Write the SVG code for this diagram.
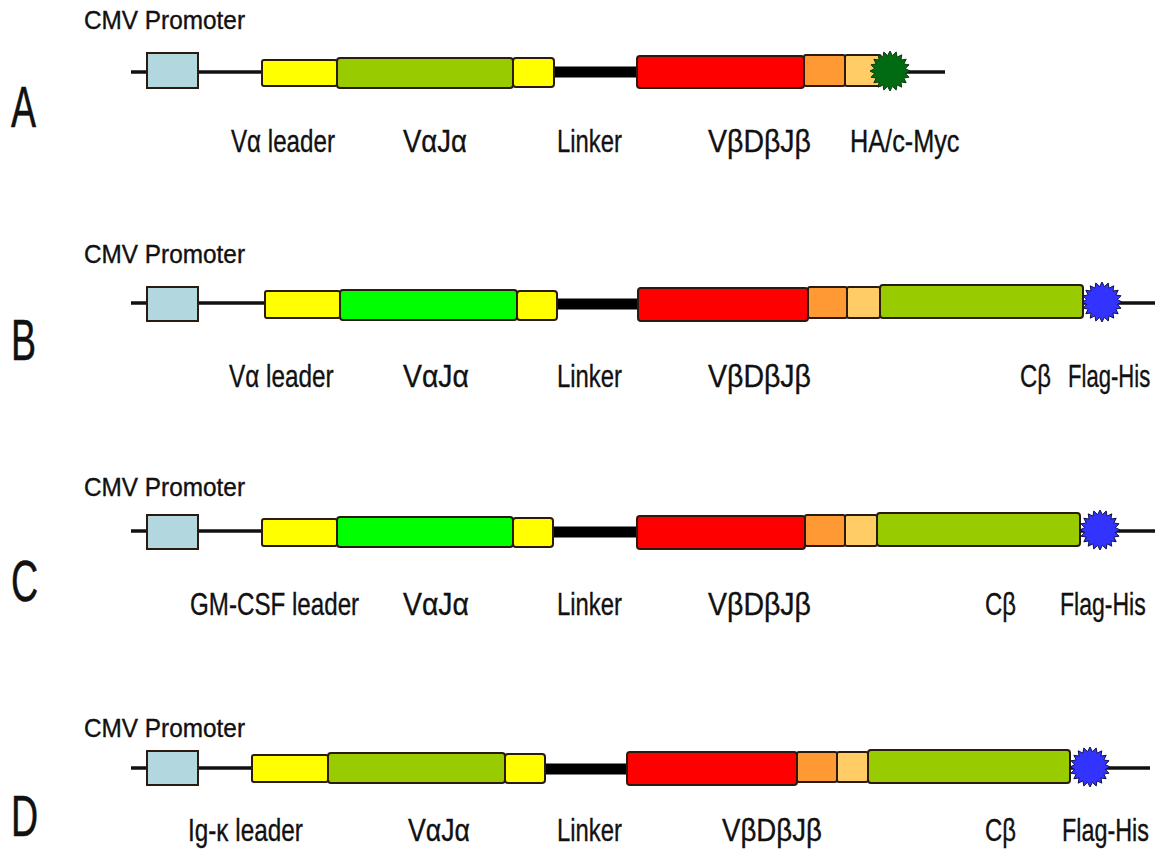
<svg xmlns="http://www.w3.org/2000/svg" width="1159" height="849" viewBox="0 0 1159 849">
  <style>
    text { font-family: "Liberation Sans", Arial, sans-serif; fill: #111; stroke: #111; stroke-width: 0.35; }
    .prom-lbl { font-size: 25px; }
    .lbl { font-size: 32px; }
    .row-id { font-size: 57px; stroke-width: 0.5; }
    .thin { stroke: #111; stroke-width: 3.5; fill: none; }
    .thick { stroke: #000; stroke-width: 11; fill: none; }
    .seg { stroke: #2a1a10; stroke-width: 2; }
    .prom { fill: #b3d7de; }
    .yel { fill: #ffff00; }
    .olive { fill: #99cc00; }
    .lime { fill: #00ff00; }
    .red { fill: #ff0000; }
    .org { fill: #ff9933; }
    .lorg { fill: #ffcc66; }
    .tag-myc { fill: #006b12; stroke: #0a3a0a; stroke-width: 1; }
    .tag-his { fill: #3333ff; stroke: #10104a; stroke-width: 1; }
  </style>
  <defs>
    <!-- 20-point burst used for the C-terminal epitope tags -->
    <polygon id="star" points="20,0 15.31,2.42 19.02,6.18 13.81,7.04 16.18,11.76 10.96,10.96 11.76,16.18 7.04,13.81 6.18,19.02 2.42,15.31 0,20 -2.42,15.31 -6.18,19.02 -7.04,13.81 -11.76,16.18 -10.96,10.96 -16.18,11.76 -13.81,7.04 -19.02,6.18 -15.31,2.42 -20,0 -15.31,-2.42 -19.02,-6.18 -13.81,-7.04 -16.18,-11.76 -10.96,-10.96 -11.76,-16.18 -7.04,-13.81 -6.18,-19.02 -2.42,-15.31 0,-20 2.42,-15.31 6.18,-19.02 7.04,-13.81 11.76,-16.18 10.96,-10.96 16.18,-11.76 13.81,-7.04 19.02,-6.18 15.31,-2.42"/>
  </defs>

  <!-- backbone lines of each construct -->
  <g id="connectors">
    <line class="thin" x1="131" y1="72" x2="262" y2="72"/>
    <line class="thick" x1="552" y1="72" x2="639" y2="72"/>
    <line class="thin" x1="878" y1="72" x2="945" y2="72"/>

    <line class="thin" x1="131" y1="303" x2="265" y2="303"/>
    <line class="thick" x1="555" y1="304" x2="640" y2="304"/>
    <line class="thin" x1="1080" y1="303" x2="1155" y2="303"/>

    <line class="thin" x1="131" y1="531" x2="262" y2="531"/>
    <line class="thick" x1="551" y1="532" x2="639" y2="532"/>
    <line class="thin" x1="1078" y1="531" x2="1155" y2="531"/>

    <line class="thin" x1="131" y1="768" x2="252" y2="768"/>
    <line class="thick" x1="543" y1="769" x2="629" y2="769"/>
    <line class="thin" x1="1068" y1="768" x2="1150" y2="768"/>
  </g>

  <!-- construct A -->
  <g id="rowA">
    <text id="A-id" class="row-id" transform="translate(11,127) scale(0.66,1)">A</text>
    <text id="A-prom-lbl" class="prom-lbl" x="84" y="29" textLength="161" lengthAdjust="spacingAndGlyphs">CMV Promoter</text>
    <g id="A-promoter"><rect class="seg prom" x="147" y="53" width="51" height="35"/></g>
    <g id="A-leader"><rect class="seg yel" x="262" y="60" width="75" height="26" rx="2"/></g>
    <g id="A-vaja"><rect class="seg olive" x="337" y="58" width="176" height="30" rx="3"/></g>
    <g id="A-linker-start"><rect class="seg yel" x="513" y="58" width="41" height="29" rx="3"/></g>
    <g id="A-vbdbjb"><rect class="seg red" x="637" y="56" width="167" height="32" rx="3"/></g>
    <g id="A-cb1"><rect class="seg org" x="804" y="55" width="41" height="31" rx="2"/></g>
    <g id="A-cb2"><rect class="seg lorg" x="845" y="55" width="36" height="31" rx="2"/></g>
    <g id="A-tag"><use href="#star" class="tag-myc" transform="translate(890,71)"/></g>
    <text class="lbl" transform="translate(231,152) scale(0.755,1)">Vα leader</text>
    <text class="lbl" x="403" y="152" textLength="64" lengthAdjust="spacingAndGlyphs">VαJα</text>
    <text class="lbl" x="557" y="152" textLength="65" lengthAdjust="spacingAndGlyphs">Linker</text>
    <text class="lbl" x="708" y="152" textLength="103" lengthAdjust="spacingAndGlyphs">VβDβJβ</text>
    <text class="lbl" transform="translate(850,152) scale(0.79,1)">HA/c-Myc</text>
  </g>

  <!-- construct B -->
  <g id="rowB">
    <text id="B-id" class="row-id" transform="translate(11,360) scale(0.66,1)">B</text>
    <text id="B-prom-lbl" class="prom-lbl" x="84" y="263" textLength="161" lengthAdjust="spacingAndGlyphs">CMV Promoter</text>
    <g id="B-promoter"><rect class="seg prom" x="147" y="287" width="51" height="34"/></g>
    <g id="B-leader"><rect class="seg yel" x="265" y="291" width="75" height="27" rx="2"/></g>
    <g id="B-vaja"><rect class="seg lime" x="340" y="290" width="177" height="30" rx="3"/></g>
    <g id="B-linker-start"><rect class="seg yel" x="517" y="291" width="40" height="29" rx="3"/></g>
    <g id="B-vbdbjb"><rect class="seg red" x="638" y="288" width="170" height="33" rx="3"/></g>
    <g id="B-cb1"><rect class="seg org" x="808" y="287" width="39" height="31" rx="2"/></g>
    <g id="B-cb2"><rect class="seg lorg" x="847" y="287" width="33" height="31" rx="2"/></g>
    <g id="B-cb"><rect class="seg olive" x="880" y="285" width="203" height="33" rx="3"/></g>
    <g id="B-tag"><use href="#star" class="tag-his" transform="translate(1102,302)"/></g>
    <text class="lbl" transform="translate(229,387) scale(0.76,1)">Vα leader</text>
    <text class="lbl" x="403" y="387" textLength="66" lengthAdjust="spacingAndGlyphs">VαJα</text>
    <text class="lbl" x="557" y="387" textLength="65" lengthAdjust="spacingAndGlyphs">Linker</text>
    <text class="lbl" x="708" y="387" textLength="103" lengthAdjust="spacingAndGlyphs">VβDβJβ</text>
    <text class="lbl" x="1020" y="387" textLength="31" lengthAdjust="spacingAndGlyphs">Cβ</text>
    <text class="lbl" transform="translate(1068,387) scale(0.69,1)">Flag-His</text>
  </g>

  <!-- construct C -->
  <g id="rowC">
    <text id="C-id" class="row-id" transform="translate(11,601) scale(0.66,1)">C</text>
    <text id="C-prom-lbl" class="prom-lbl" x="84" y="496" textLength="161" lengthAdjust="spacingAndGlyphs">CMV Promoter</text>
    <g id="C-promoter"><rect class="seg prom" x="147" y="515" width="51" height="34"/></g>
    <g id="C-leader"><rect class="seg yel" x="262" y="519" width="75" height="27" rx="2"/></g>
    <g id="C-vaja"><rect class="seg lime" x="337" y="517" width="176" height="30" rx="3"/></g>
    <g id="C-linker-start"><rect class="seg yel" x="513" y="518" width="40" height="29" rx="3"/></g>
    <g id="C-vbdbjb"><rect class="seg red" x="637" y="516" width="168" height="33" rx="3"/></g>
    <g id="C-cb1"><rect class="seg org" x="805" y="515" width="40" height="31" rx="2"/></g>
    <g id="C-cb2"><rect class="seg lorg" x="845" y="515" width="32" height="31" rx="2"/></g>
    <g id="C-cb"><rect class="seg olive" x="877" y="513" width="203" height="33" rx="3"/></g>
    <g id="C-tag"><use href="#star" class="tag-his" transform="translate(1100,530)"/></g>
    <text class="lbl" transform="translate(190,615) scale(0.755,1)">GM-CSF leader</text>
    <text class="lbl" x="403" y="615" textLength="66" lengthAdjust="spacingAndGlyphs">VαJα</text>
    <text class="lbl" x="557" y="615" textLength="65" lengthAdjust="spacingAndGlyphs">Linker</text>
    <text class="lbl" x="708" y="615" textLength="103" lengthAdjust="spacingAndGlyphs">VβDβJβ</text>
    <text class="lbl" x="985" y="615" textLength="31" lengthAdjust="spacingAndGlyphs">Cβ</text>
    <text class="lbl" transform="translate(1060,615) scale(0.72,1)">Flag-His</text>
  </g>

  <!-- construct D -->
  <g id="rowD">
    <text id="D-id" class="row-id" transform="translate(11,836) scale(0.66,1)">D</text>
    <text id="D-prom-lbl" class="prom-lbl" x="84" y="737" textLength="161" lengthAdjust="spacingAndGlyphs">CMV Promoter</text>
    <g id="D-promoter"><rect class="seg prom" x="147" y="751" width="51" height="34"/></g>
    <g id="D-leader"><rect class="seg yel" x="252" y="755" width="76" height="27" rx="2"/></g>
    <g id="D-vaja"><rect class="seg olive" x="328" y="753" width="177" height="30" rx="3"/></g>
    <g id="D-linker-start"><rect class="seg yel" x="505" y="754" width="40" height="29" rx="3"/></g>
    <g id="D-vbdbjb"><rect class="seg red" x="627" y="752" width="170" height="33" rx="3"/></g>
    <g id="D-cb1"><rect class="seg org" x="797" y="752" width="40" height="30" rx="2"/></g>
    <g id="D-cb2"><rect class="seg lorg" x="837" y="752" width="31" height="30" rx="2"/></g>
    <g id="D-cb"><rect class="seg olive" x="868" y="750" width="202" height="33" rx="3"/></g>
    <g id="D-tag"><use href="#star" class="tag-his" transform="translate(1090,767)"/></g>
    <text class="lbl" transform="translate(188,841) scale(0.76,1)">Ig-κ leader</text>
    <text class="lbl" x="408" y="841" textLength="62" lengthAdjust="spacingAndGlyphs">VαJα</text>
    <text class="lbl" x="557" y="841" textLength="65" lengthAdjust="spacingAndGlyphs">Linker</text>
    <text class="lbl" x="722" y="841" textLength="100" lengthAdjust="spacingAndGlyphs">VβDβJβ</text>
    <text class="lbl" x="985" y="841" textLength="31" lengthAdjust="spacingAndGlyphs">Cβ</text>
    <text class="lbl" transform="translate(1062,841) scale(0.73,1)">Flag-His</text>
  </g>
</svg>
